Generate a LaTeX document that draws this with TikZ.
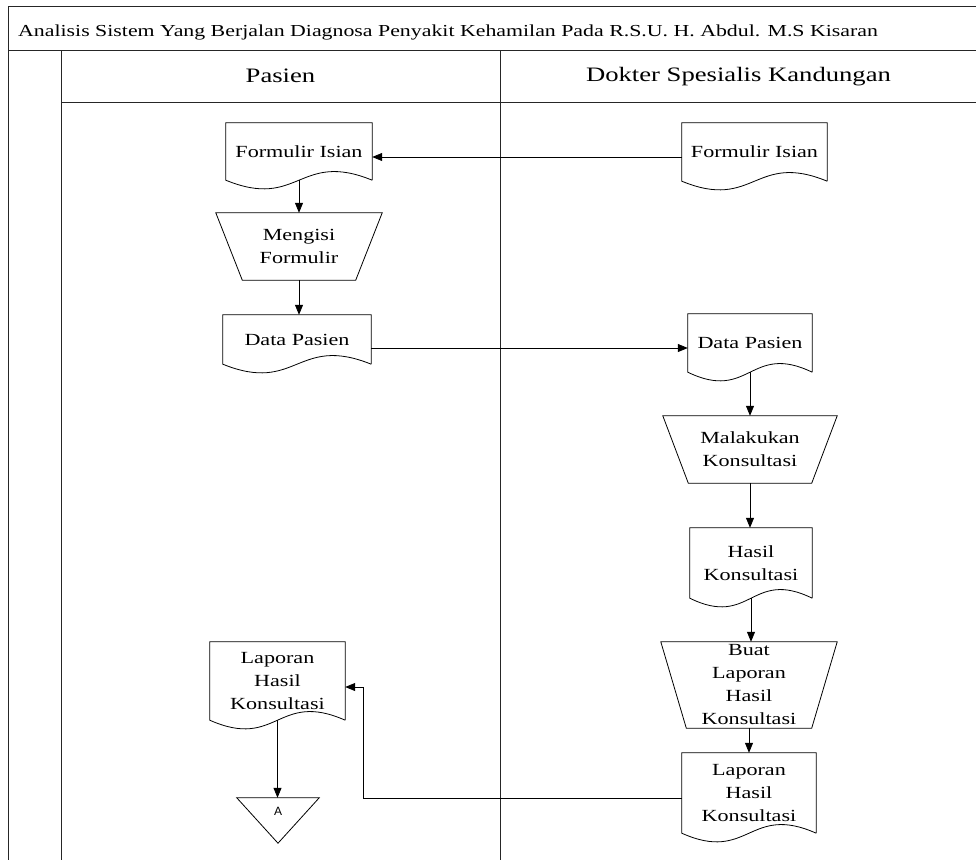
\documentclass[tikz,border=0pt]{standalone}
\usepackage{fontspec}
\setmainfont{Liberation Serif}[FakeStretch=1.3]
\newfontfamily\sansA{Liberation Sans}
\usetikzlibrary{arrows.meta,calc}
\begin{document}
\begin{tikzpicture}[x=1pt,y=-1pt,
  frame/.style={line width=1pt,draw=black!85},
  line/.style={line width=0.8pt},
  arr/.style={line width=0.8pt,-{Triangle[length=10pt,width=8pt]}},
  base/.style={font=\fontsize{17}{23}\selectfont,align=center,inner sep=0pt},
  docu/.style={base,append after command={\pgfextra{\let\dnode\tikzlastnode
     \draw[line] (\dnode.south east) -- (\dnode.north east) -- (\dnode.north west) -- (\dnode.south west)
       .. controls ($(\dnode.south)+(0,30)$) and ($(\dnode.south)+(0,-30)$) .. (\dnode.south east);}}},
  manual/.style={base,append after command={\pgfextra{\let\dnode\tikzlastnode
     \draw[line] (\dnode.north west) -- (\dnode.north east) -- ([xshift=-#1]\dnode.south east) -- ([xshift=#1]\dnode.south west) -- cycle;}}},
  offpage/.style={font=\sansA\fontsize{12}{14}\selectfont,inner sep=0pt,text height=8.5pt,text depth=19.5pt,
     append after command={\pgfextra{\let\dnode\tikzlastnode
     \draw[line] (\dnode.north west) -- (\dnode.north east) -- (\dnode.south) -- cycle;}}},
  hdr/.style={font=\fontsize{20.5}{24}\selectfont,inner sep=0pt},
  ttl/.style={font=\fontsize{16.8}{19}\selectfont,inner sep=0pt,anchor=base west}
]
\useasboundingbox (0,0) rectangle (976,860);
% frame
\draw[frame] (8,6) -- (976,6);
\draw[frame] (8,50) -- (976,50);
\draw[frame] (61,102) -- (976,102);
\draw[frame] (8,6) -- (8,860);
\draw[frame] (61,50) -- (61,860);
\draw[frame] (500,50) -- (500,860);
\node[ttl] (title) at (18,36) {Analisis Sistem Yang Berjalan Diagnosa Penyakit Kehamilan Pada R.S.U. H. Abdul. M.S Kisaran};
\node[hdr] (hP) at (280.5,76) {Pasien};
\node[hdr] (hD) at (738.5,77) {Dokter Spesialis Kandungan};
% nodes
\node[docu,minimum width=146,minimum height=57] (fL) at (299,151.5) {Formulir Isian};
\node[docu,minimum width=145,minimum height=58] (fR) at (754.5,152) {Formulir Isian};
\node[manual=26.5pt,minimum width=166,minimum height=67] (mF) at (299,246.5) {Mengisi\\Formulir};
\node[docu,minimum width=148,minimum height=49] (dL) at (297,339.5) {Data Pasien};
\node[docu,minimum width=124,minimum height=58] (dR) at (750,343) {Data Pasien};
\node[manual=25.5pt,minimum width=174,minimum height=67] (mK) at (750,449.5) {Malakukan\\Konsultasi};
\node[docu,minimum width=122,minimum height=70] (hK) at (751,563) {Hasil\\Konsultasi};
\node[manual=25.5pt,minimum width=176,minimum height=86] (bL) at (749,685) {Buat\\Laporan\\Hasil\\Konsultasi};
\node[docu,minimum width=134,minimum height=80] (lR) at (749,793) {Laporan\\Hasil\\Konsultasi};
\node[docu,minimum width=135,minimum height=78] (lL) at (277.5,681) {Laporan\\Hasil\\Konsultasi};
\node[offpage,minimum width=82,minimum height=45] (tA) at (278,820.5) {A};
% connectors
\draw[arr] ([yshift=-5pt]fR.west) -- ([yshift=-5pt]fR.west -| fL.east);
\draw[arr] (fL.south) -- (fL.south |- mF.north);
\draw[arr] (mF.south) -- (mF.south |- dL.north);
\draw[arr] ([yshift=-8.5pt]dL.east) -- ([yshift=-8.5pt]dL.east -| dR.west);
\draw[arr] (dR.south) -- (dR.south |- mK.north);
\draw[arr] (mK.south) -- (mK.south |- hK.north);
\draw[arr] (hK.south) -- (hK.south |- bL.north);
\draw[arr] (bL.south) -- (bL.south |- lR.north);
\draw[arr] (lL.south) -- (lL.south |- tA.north);
\draw[arr] ([yshift=-5pt]lR.west) -| ([xshift=18pt,yshift=-6pt]lL.east) -- ([yshift=-6pt]lL.east);
\end{tikzpicture}
\end{document}
